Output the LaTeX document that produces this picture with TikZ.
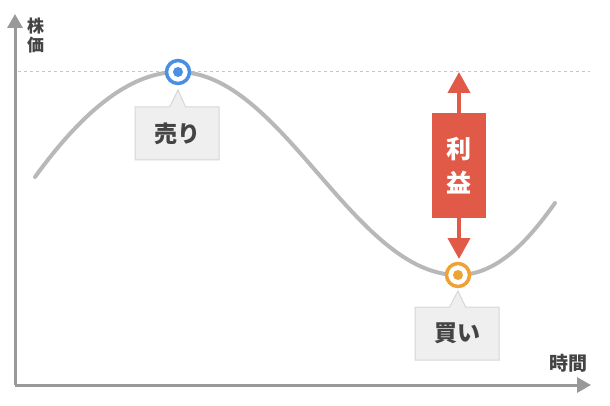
\documentclass[tikz,border=0pt]{standalone}
\usepackage{fontspec}
\newfontfamily\jp{Noto Sans CJK JP}
\usetikzlibrary{arrows.meta,shapes.callouts}
\definecolor{axisgray}{HTML}{999999}
\definecolor{curvegray}{HTML}{B8B8B8}
\definecolor{sellblue}{HTML}{4A90E2}
\definecolor{buyorange}{HTML}{EFA233}
\definecolor{profitred}{HTML}{E05A47}
\definecolor{tipfill}{HTML}{EFEFEF}
\definecolor{tipline}{HTML}{D6D6D6}
\definecolor{textgray}{HTML}{444444}
\begin{document}
\begin{tikzpicture}[x=1pt,y=-1pt,
    axis/.style={draw=axisgray,line width=3pt,-{Triangle[width=15pt,length=14pt]}},
    ring/.style={circle,draw=#1,line width=3.5pt,fill=white,minimum size=23pt,inner sep=0pt,
      path picture={\fill[#1] (path picture bounding box.center) circle (5pt);}},
    tip/.style={rectangle callout,draw=tipline,fill=tipfill,line width=1pt,
      minimum width=84pt,minimum height=53pt,callout pointer width=16pt,
      font=\jp\bfseries\fontsize{23}{23}\selectfont,text=textgray},
    label/.style={font=\jp\bfseries\fontsize{17}{19}\selectfont,text=textgray,align=center,inner sep=0pt}]
  \useasboundingbox (0,0) rectangle (610,406);
  % reference level
  \draw[curvegray!80,line width=1pt,dash pattern=on 3pt off 3pt] (18,72) -- (590,72);
  % price curve
  \draw[curvegray,line width=4pt,line cap=round]
    (35,177) .. controls (80,115) and (128,72) .. (178,72)
    .. controls (282,72) and (354,275) .. (458,275)
    .. controls (500,275) and (532,235) .. (555,203);
  % axes
  \coordinate (o) at (15,385);
  \coordinate (ytop) at (15,14);
  \coordinate (xend) at (591,385);
  \draw[axis] (o) -- (ytop);
  \draw[axis] (o) -- (xend);
  \node[label,anchor=north west] (price) at (27,18) {株\\価};
  \node[label,anchor=south east,font=\jp\bfseries\fontsize{19}{19}\selectfont] (time) at (588,373) {時間};
  % points
  \node[ring=sellblue] (sell) at (178,72) {};
  \node[ring=buyorange] (buy) at (458,275) {};
  \coordinate (sellTip) at (178,90);
  \coordinate (buyTip) at (458,291);
  \node[tip,callout absolute pointer={(sellTip)}] (sellbox) at (177,133.5) {売り};
  \node[tip,callout absolute pointer={(buyTip)}] (buybox) at (457,333.5) {買い};
  % profit
  \node[fill=profitred,minimum width=54pt,minimum height=105pt,inner sep=0pt,
    text=white,align=center,font=\jp\bfseries\fontsize{25}{34}\selectfont] (profit) at (459,165.5) {利\\益};
  \coordinate (ptop) at (459,72);
  \coordinate (pbot) at (459,259);
  \begin{scope}[profitred,line width=4pt,-{Triangle[width=22pt,length=21pt]}]
    \draw (profit.north) -- (ptop);
    \draw (profit.south) -- (pbot);
  \end{scope}
\end{tikzpicture}
\end{document}
